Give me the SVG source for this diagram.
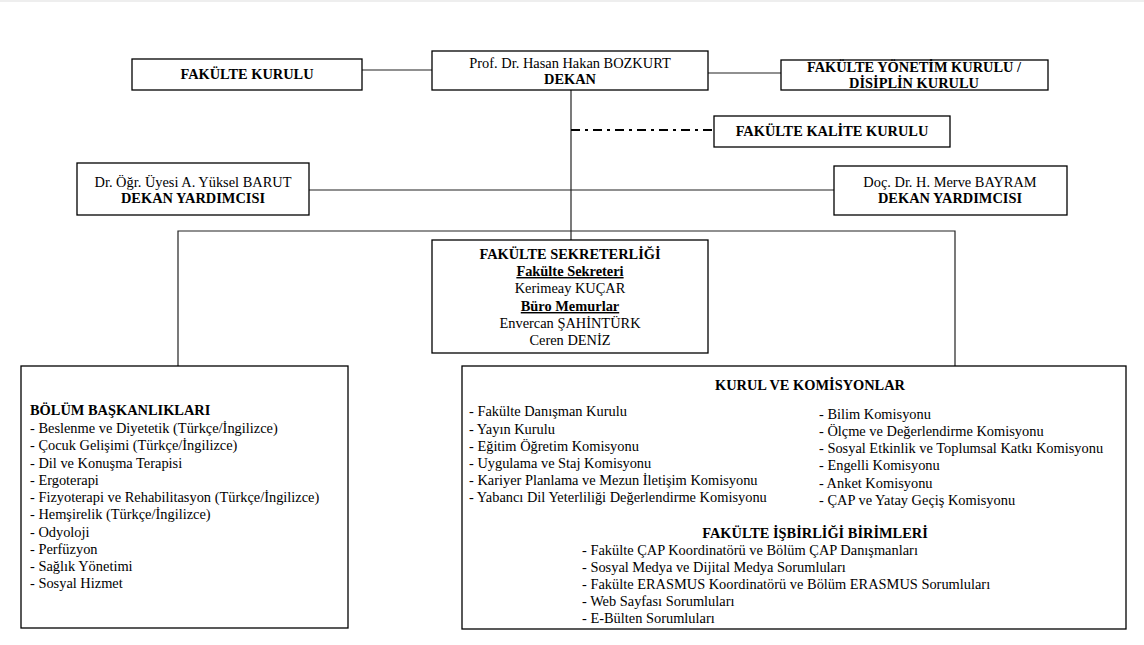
<svg xmlns="http://www.w3.org/2000/svg" width="1144" height="645" viewBox="0 0 1144 645">
<style>
.box{fill:#fff;stroke:#000;stroke-width:1.3}
.t{font-family:"Liberation Serif","Times New Roman",serif;font-size:14.4px;fill:#000}
.b{font-weight:bold}
.c{text-anchor:middle}
.u{text-decoration:underline}
.ln{stroke:#222;stroke-width:1.2;fill:none}
</style>
<rect width="1144" height="645" fill="#fff"/>
<line x1="0" y1="1" x2="1144" y2="1" stroke="#ddd" stroke-width="1"/>
<g id="connectors">
<line class="ln" x1="362" y1="70" x2="432" y2="70" stroke="#777"/>
<line class="ln" x1="708" y1="73" x2="781" y2="73"/>
<line class="ln" x1="571" y1="90" x2="571" y2="240"/>
<line x1="571" y1="130" x2="714" y2="130" stroke="#000" stroke-width="1.8" stroke-dasharray="9,5,3,5"/>
<line class="ln" x1="309" y1="190" x2="834" y2="190"/>
<polyline class="ln" points="178,366 178,231 955,231 955,366"/>
</g>
<g id="fakulte-kurulu">
<rect class="box" x="132" y="59" width="230" height="31"/>
<text class="t b c" x="247" y="79">FAKÜLTE KURULU</text>
</g>
<g id="dekan">
<rect class="box" x="432" y="51" width="276" height="39"/>
<text class="t c" x="570" y="68">Prof. Dr. Hasan Hakan BOZKURT</text>
<text class="t b c" x="570" y="84">DEKAN</text>
</g>
<g id="yonetim-kurulu">
<rect class="box" x="781" y="60" width="267" height="30"/>
<text class="t b c" x="914" y="72">FAKÜLTE YÖNETİM KURULU /</text>
<text class="t b c" x="914" y="87.5">DİSİPLİN KURULU</text>
</g>
<g id="kalite-kurulu">
<rect class="box" x="714" y="116" width="236" height="31"/>
<text class="t b c" x="832" y="136">FAKÜLTE KALİTE KURULU</text>
</g>
<g id="dekan-yard-1">
<rect class="box" x="77" y="163" width="232" height="52"/>
<text class="t c" x="193" y="187">Dr. Öğr. Üyesi A. Yüksel BARUT</text>
<text class="t b c" x="193" y="203">DEKAN YARDIMCISI</text>
</g>
<g id="dekan-yard-2">
<rect class="box" x="834" y="166" width="233" height="49"/>
<text class="t c" x="950" y="187">Doç. Dr. H. Merve BAYRAM</text>
<text class="t b c" x="950" y="203">DEKAN YARDIMCISI</text>
</g>
<g id="sekreterlik">
<rect class="box" x="432" y="240" width="276" height="113"/>
<text class="t b c" x="570" y="259">FAKÜLTE SEKRETERLİĞİ</text>
<text class="t b c u" x="570" y="276">Fakülte Sekreteri</text>
<text class="t c" x="570" y="293">Kerimeay KUÇAR</text>
<text class="t b c u" x="570" y="311">Büro Memurlar</text>
<text class="t c" x="570" y="328">Envercan ŞAHİNTÜRK</text>
<text class="t c" x="570" y="345">Ceren DENİZ</text>
</g>
<g id="bolum-baskanliklari">
<rect class="box" x="21" y="366" width="327" height="262"/>
<text class="t b" x="30" y="415">BÖLÜM BAŞKANLIKLARI</text>
<text class="t" x="30" y="433">- Beslenme ve Diyetetik (Türkçe/İngilizce)</text>
<text class="t" x="30" y="450">- Çocuk Gelişimi (Türkçe/İngilizce)</text>
<text class="t" x="30" y="468">- Dil ve Konuşma Terapisi</text>
<text class="t" x="30" y="485">- Ergoterapi</text>
<text class="t" x="30" y="502">- Fizyoterapi ve Rehabilitasyon (Türkçe/İngilizce)</text>
<text class="t" x="30" y="519">- Hemşirelik (Türkçe/İngilizce)</text>
<text class="t" x="30" y="537">- Odyoloji</text>
<text class="t" x="30" y="554">- Perfüzyon</text>
<text class="t" x="30" y="571">- Sağlık Yönetimi</text>
<text class="t" x="30" y="588">- Sosyal Hizmet</text>
</g>
<g id="kurul-komisyonlar">
<rect class="box" x="462" y="366" width="664" height="263"/>
<text class="t b c" x="810" y="390">KURUL VE KOMİSYONLAR</text>
<text class="t" x="469" y="416">- Fakülte Danışman Kurulu</text>
<text class="t" x="469" y="434">- Yayın Kurulu</text>
<text class="t" x="469" y="451">- Eğitim Öğretim Komisyonu</text>
<text class="t" x="469" y="468">- Uygulama ve Staj Komisyonu</text>
<text class="t" x="469" y="485">- Kariyer Planlama ve Mezun İletişim Komisyonu</text>
<text class="t" x="469" y="502">- Yabancı Dil Yeterliliği Değerlendirme Komisyonu</text>
<text class="t" x="819" y="419">- Bilim Komisyonu</text>
<text class="t" x="819" y="436">- Ölçme ve Değerlendirme Komisyonu</text>
<text class="t" x="819" y="453">- Sosyal Etkinlik ve Toplumsal Katkı Komisyonu</text>
<text class="t" x="819" y="470">- Engelli Komisyonu</text>
<text class="t" x="819" y="488">- Anket Komisyonu</text>
<text class="t" x="819" y="505">- ÇAP ve Yatay Geçiş Komisyonu</text>
<text class="t b c" x="815" y="538">FAKÜLTE İŞBİRLİĞİ BİRİMLERİ</text>
<text class="t" x="582" y="555">- Fakülte ÇAP Koordinatörü ve Bölüm ÇAP Danışmanları</text>
<text class="t" x="582" y="572">- Sosyal Medya ve Dijital Medya Sorumluları</text>
<text class="t" x="582" y="589">- Fakülte ERASMUS Koordinatörü ve Bölüm ERASMUS Sorumluları</text>
<text class="t" x="582" y="606">- Web Sayfası Sorumluları</text>
<text class="t" x="582" y="623">- E-Bülten Sorumluları</text>
</g>
</svg>
